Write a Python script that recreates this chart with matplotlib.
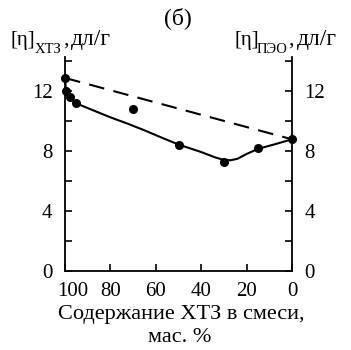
import matplotlib
matplotlib.use('Agg')
import matplotlib.pyplot as plt
from matplotlib import transforms

# measured points
pts_x = [100, 99.5, 98, 95, 70, 50, 30, 15, 0]
pts_y = [12.9, 12.05, 11.6, 11.2, 10.8, 8.45, 7.3, 8.2, 8.8]

# solid trend curve
curve_x = [100, 99.6, 98, 95, 87, 80, 72.5, 65, 58, 50, 40, 34, 30, 27, 24, 20, 15, 8, 0]
curve_y = [12.9, 12.1, 11.6, 11.2, 10.7, 10.27, 9.85, 9.4, 8.95, 8.45, 7.95, 7.6, 7.42, 7.4, 7.5, 7.82, 8.16, 8.45, 8.8]

# additive line
dash_x = [100, 0]
dash_y = [12.9, 8.8]

xticks = [100, 80, 60, 40, 20, 0]
yticks = [0, 4, 8, 12]
yminor = [2, 6, 10, 14]

plt.rcParams['font.family'] = ['Liberation Serif', 'DejaVu Serif']

W, H = 351, 350
fig = plt.figure(figsize=(W / 100, H / 100), dpi=100)
ax = fig.add_axes([65 / W, 79 / H, 227 / W, 214 / H])

ax.plot(curve_x, curve_y, color='black', lw=1.5, solid_joinstyle='round')
ax.plot(dash_x, dash_y, color='black', lw=1.5, ls=(0, (7.5, 4.5)))
ax.plot(pts_x, pts_y, 'o', color='black', ms=5.5, clip_on=False, zorder=5)

ax.set_xlim(100, 0)
ax.set_ylim(0, 14.3)
ax.spines['top'].set_visible(False)
for s in ['left', 'right', 'bottom']:
    ax.spines[s].set_linewidth(1.3)

ax.set_xticks(xticks)
ax.set_yticks(yticks)
ax.set_yticks(yminor, minor=True)
ax.tick_params(axis='both', which='both', direction='in', length=5, width=1.2,
               labelsize=15)
ax.tick_params(axis='y', which='both', left=True, right=True,
               labelleft=True, labelright=True, pad=9)
ax.tick_params(axis='x', pad=8)

# the "100" label sits a little to the right of its tick
lab100 = ax.get_xticklabels()[0]
lab100.set_transform(lab100.get_transform() +
                     transforms.ScaledTranslation(8 / 100, 0, fig.dpi_scale_trans))


def px(x, y):
    return x / W, 1 - y / H


fig.text(*px(178, 18), '(б)', ha='center', va='center', fontsize=17)

# axis titles with subscripts
fig.text(*px(10, 45), '[η]', ha='left', va='baseline', fontsize=15)
fig.text(*px(35, 53), 'ХТЗ', ha='left', va='baseline', fontsize=10.5)
fig.text(*px(63, 45), ',', ha='left', va='baseline', fontsize=16)
fig.text(*px(71, 45), 'дл/г', ha='left', va='baseline', fontsize=17)

fig.text(*px(235, 45), '[η]', ha='left', va='baseline', fontsize=15)
fig.text(*px(257, 53), 'ПЭО', ha='left', va='baseline', fontsize=10.5)
fig.text(*px(288, 45), ',', ha='left', va='baseline', fontsize=16)
fig.text(*px(297, 45), 'дл/г', ha='left', va='baseline', fontsize=17)

fig.text(*px(181, 315), 'Содержание ХТЗ в смеси,', ha='center', va='center', fontsize=16)
fig.text(*px(180, 338), 'мас. %', ha='center', va='center', fontsize=16)

fig.savefig('out.png', dpi=100)
